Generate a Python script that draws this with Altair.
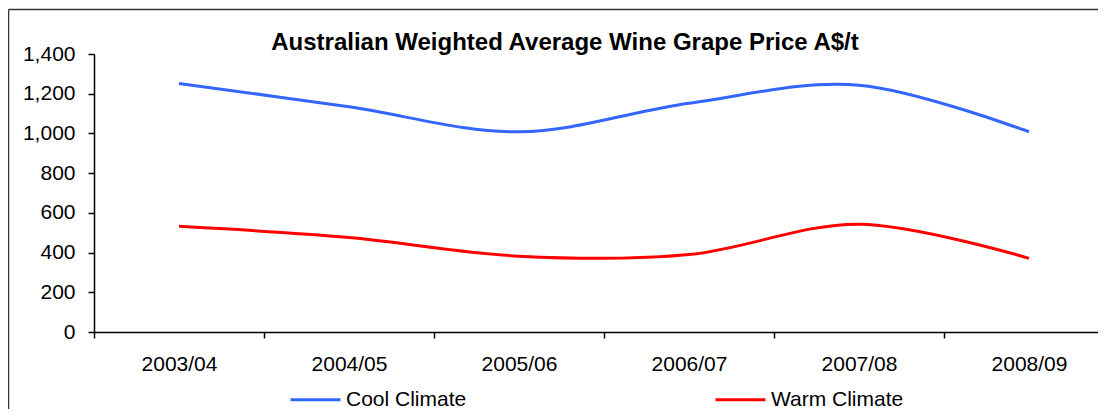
import altair as alt
import pandas as pd

years = ["2003/04", "2004/05", "2005/06", "2006/07", "2007/08", "2008/09"]
cool = [1252, 1134, 1008, 1152, 1243, 1008]
warm = [532, 476, 382, 390, 543, 371]
series = ["Cool Climate", "Warm Climate"]
colors = ["#3366FF", "#FF0000"]
y_ticks = [0, 200, 400, 600, 800, 1000, 1200, 1400]
title_text = "Australian Weighted Average Wine Grape Price A$/t"

rows = []
for s, vals in zip(series, [cool, warm]):
    for yr, v in zip(years, vals):
        rows.append({"Year": yr, "Series": s, "Price": v})
df = pd.DataFrame(rows)

FONT = "Liberation Sans"

lines = alt.Chart(df).mark_line(
    interpolate="cardinal", tension=0, strokeWidth=3
).encode(
    x=alt.X(
        "Year:N",
        sort=years,
        scale=alt.Scale(range=[0, 1020], paddingInner=0, paddingOuter=0),
        axis=alt.Axis(
            title=None, labelAngle=0, tickBand="extent", tickSize=6,
            labelPadding=15, grid=False,
        ),
    ),
    y=alt.Y(
        "Price:Q",
        scale=alt.Scale(domain=[0, 1400], nice=False),
        axis=alt.Axis(
            title=None, values=y_ticks, format=",.0f", tickSize=6,
            labelPadding=13, grid=False,
        ),
    ),
    color=alt.Color(
        "Series:N",
        scale=alt.Scale(domain=series, range=colors),
        legend=alt.Legend(
            title=None, orient="none", direction="horizontal",
            legendX=195, legendY=319, symbolType="stroke",
            symbolSize=2500, symbolStrokeWidth=3, labelOffset=4,
            columnPadding=242, labelFontSize=21, labelFont=FONT,
            labelColor="#000", labelLimit=400, padding=0,
        ),
    ),
)

border = alt.Chart(alt.Data(values=[{}])).mark_rule(
    color="#333", strokeWidth=1.5
)
left_border = border.encode(x=alt.value(-85.5), y=alt.value(-44.5), y2=alt.value(400))
top_border = border.encode(x=alt.value(-85.5), x2=alt.value(1100), y=alt.value(-44.5))

title = alt.Chart(alt.Data(values=[{"t": title_text}])).mark_text(
    font=FONT, fontSize=24, fontWeight="bold", color="#000",
    align="center", baseline="alphabetic",
).encode(text="t:N", x=alt.value(471), y=alt.value(-4))

chart = alt.layer(lines, left_border, top_border, title).properties(
    width=1004,
    height=278,
    autosize=alt.AutoSizeParams(type="none"),
    padding={"left": 86, "top": 46, "right": 0, "bottom": 77},
).configure_axis(
    labelFont=FONT, labelFontSize=21, labelColor="#000",
    domainColor="#000", tickColor="#000", domainWidth=1.5, tickWidth=1.5,
).configure_view(stroke=None)

chart.save("out.html", embed_options={"renderer": "svg", "actions": False})
